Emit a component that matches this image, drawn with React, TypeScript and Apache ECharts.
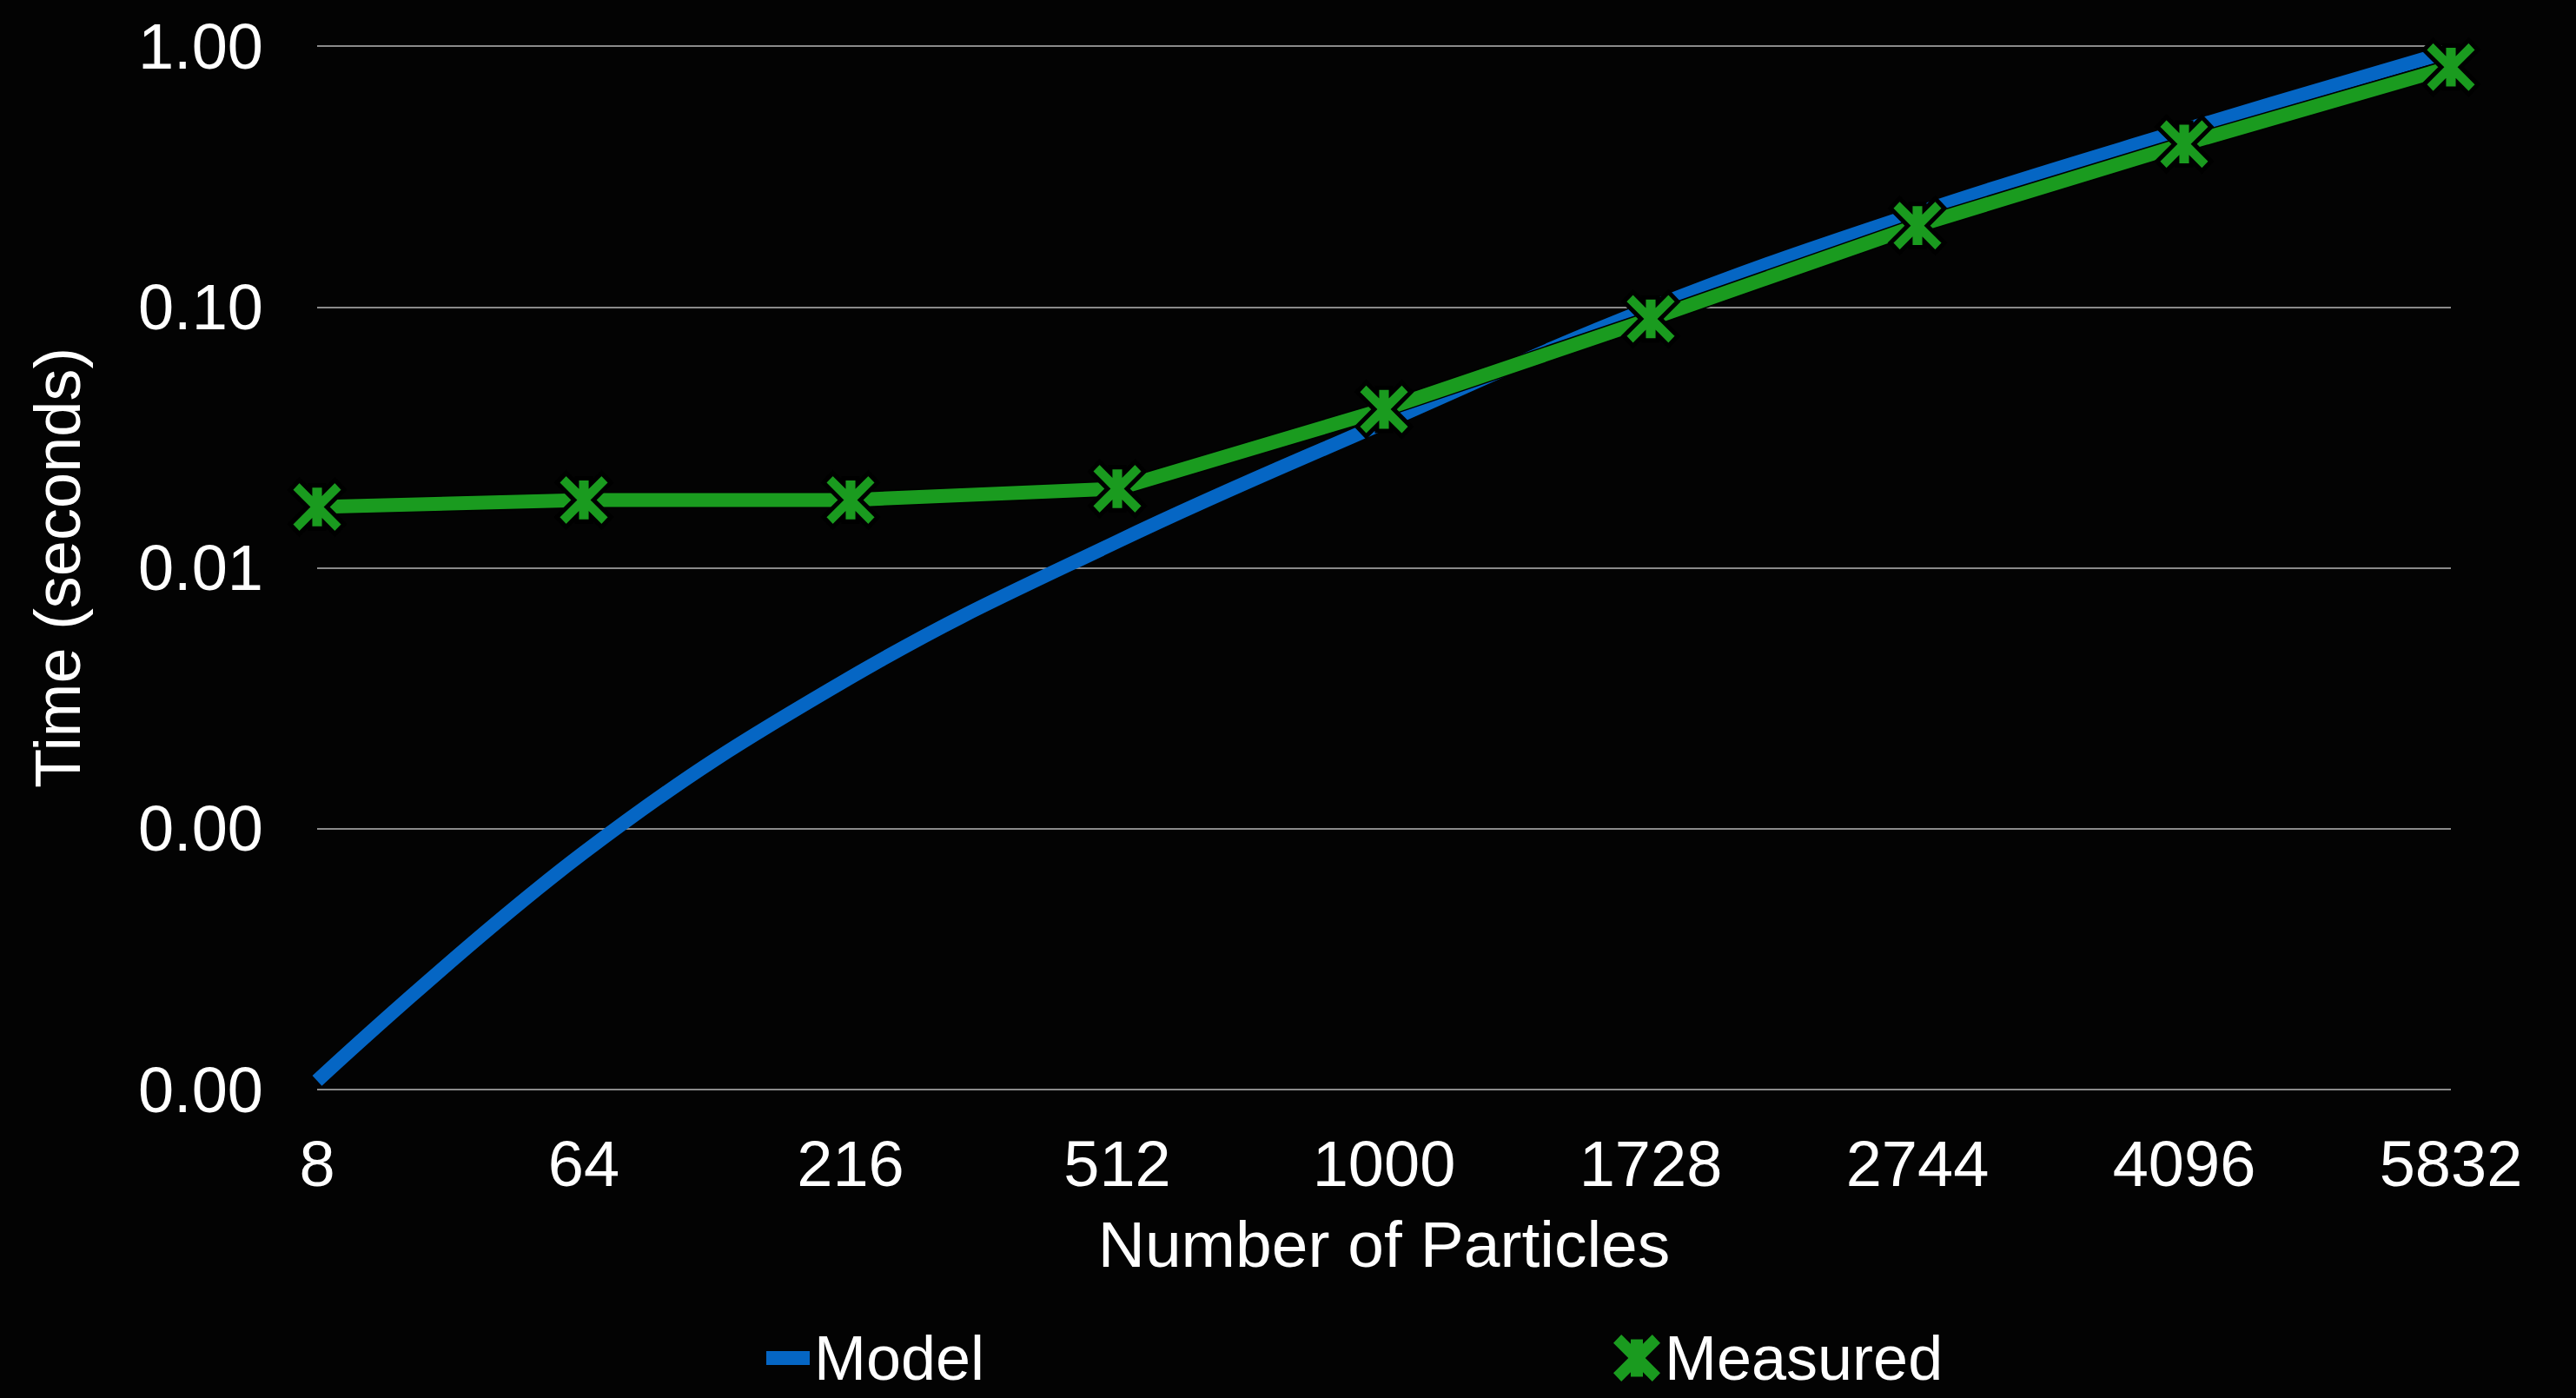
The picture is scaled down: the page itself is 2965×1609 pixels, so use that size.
import React, { useEffect, useRef } from "react";
import * as echarts from "echarts";

const categories = ["8", "64", "216", "512", "1000", "1728", "2744", "4096", "5832"];
const modelValues = [0.000108, 0.00081, 0.0038, 0.0126, 0.036, 0.099, 0.229, 0.477, 0.957];
const measuredValues = [0.0171, 0.0182, 0.0182, 0.0201, 0.0405, 0.09, 0.205, 0.421, 0.83];

const xTitle = "Number of Particles";
const yTitle = "Time (seconds)";

const FONT = "'Liberation Sans', Arial, sans-serif";
const BLUE = "#0566C4";
const GREEN = "#1A9B1F";
const XMARK =
  "path://M0,18 L17,0 L37,20 L37,10 L63,10 L63,20 L83,0 L100,18 L68,50 L100,82 L83,100 L63,80 L63,90 L37,90 L37,80 L17,100 L0,82 L32,50 Z";

export default function App() {
  const ref = useRef<HTMLDivElement>(null);
  useEffect(() => {
    document.body.style.margin = "0";
    const chart = echarts.init(ref.current!, null, { renderer: "svg" });
    chart.setOption({
      animation: false,
      backgroundColor: "#030303",
      textStyle: { fontFamily: FONT },
      grid: { left: 365, right: 144, top: 53, bottom: 355, containLabel: false },
      legend: [
        {
          data: ["Model"],
          left: 877,
          top: 1522,
          icon: "rect",
          itemWidth: 50,
          itemHeight: 16,
          textStyle: { color: "#ffffff", fontSize: 72, lineHeight: 72, fontFamily: FONT },
          itemStyle: { color: BLUE, borderWidth: 0 },
          lineStyle: { width: 0 },
        },
        {
          data: ["Measured"],
          left: 1852,
          top: 1522,
          icon: XMARK,
          itemWidth: 54,
          itemHeight: 54,
          textStyle: { color: "#ffffff", fontSize: 72, lineHeight: 72, fontFamily: FONT },
          itemStyle: { color: GREEN, borderWidth: 0 },
        },
      ],
      xAxis: {
        type: "category",
        data: categories,
        boundaryGap: false,
        name: xTitle,
        nameLocation: "middle",
        nameGap: 140,
        nameTextStyle: { color: "#ffffff", fontSize: 75, fontFamily: FONT },
        axisLine: { show: false },
        axisTick: { show: false },
        axisLabel: { color: "#ffffff", fontSize: 74, margin: 48, fontFamily: FONT },
        splitLine: { show: false },
      },
      yAxis: {
        type: "log",
        logBase: 10,
        min: 0.0001,
        max: 1,
        splitNumber: 4,
        name: yTitle,
        nameLocation: "middle",
        nameGap: 262,
        nameRotate: 90,
        nameTextStyle: { color: "#ffffff", fontSize: 74, fontFamily: FONT },
        axisLine: { show: false },
        axisTick: { show: false },
        axisLabel: {
          color: "#ffffff",
          fontSize: 74,
          margin: 62,
          fontFamily: FONT,
          formatter: (v: number) => v.toFixed(2),
        },
        splitLine: { show: true, lineStyle: { color: "#8a8a8a", width: 2 } },
      },
      series: [
        {
          name: "Model",
          type: "line",
          data: modelValues,
          smooth: 0.4,
          showSymbol: false,
          symbol: "none",
          lineStyle: { color: BLUE, width: 16, cap: "butt" },
          itemStyle: { color: BLUE },
          z: 2,
        },
        {
          name: "MeasuredOutline",
          type: "line",
          data: measuredValues,
          symbol: "none",
          lineStyle: { color: "#000000", width: 19 },
          z: 3,
          silent: true,
        },
        {
          name: "Measured",
          type: "line",
          data: measuredValues,
          symbol: XMARK,
          symbolSize: 62,
          symbolKeepAspect: true,
          showAllSymbol: true,
          lineStyle: { color: GREEN, width: 16, cap: "butt" },
          itemStyle: { color: GREEN, borderColor: "#000000", borderWidth: 5 },
          z: 4,
        },
      ],
    });
    return () => chart.dispose();
  }, []);
  return (
    <div
      ref={ref}
      style={{ position: "fixed", left: 0, top: 0, width: 2965, height: 1609 }}
    />
  );
}
